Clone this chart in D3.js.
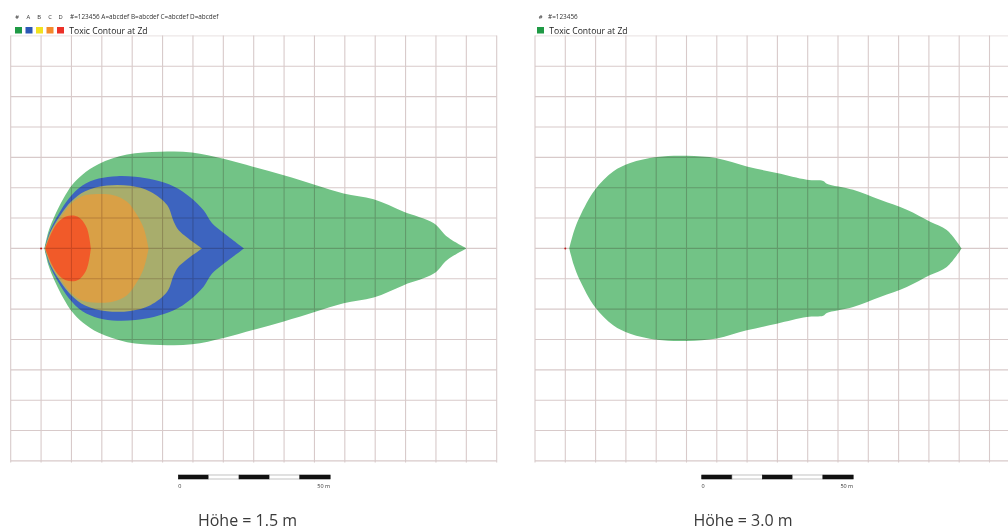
<!DOCTYPE html>
<html>
<head>
<meta charset="utf-8">
<script src="https://cdn.jsdelivr.net/npm/d3@7"></script>
<style>
  body { margin: 0; background: #fff; }
  svg { display: block; }
  text { font-family: "Open Sans", sans-serif; }
</style>
</head>
<body>
<svg id="chart" width="1008" height="529"></svg>
<script>
// Grid lines every 10 m: downwind distance (x) and crosswind offset (y)
const gridX = d3.range(-10, 151, 10);
const gridY = d3.range(-70, 71, 10);

// Contour levels and their legend colours
const levelNames = ["#", "A", "B", "C", "D"];
const levelKeys = "#=123456 A=abcdef B=abcdef C=abcdef D=abcdef";
const levelLegendColors = ["#1f9a45", "#2a57b5", "#f1e21f", "#f48a2b", "#ec3028"];
const levelFillColors = ["#72c386", "#3d64bf", "#a8ad6c", "#d9a046", "#f15a29"];

// Contours at height 1.5 m: [downwind distance m, half-width m]
const contour15Level0 = [[1.1,0],[2.4,5.5],[4.6,11.0],[7.4,16.5],[10.2,20.9],[13.6,24.3],[19.0,27.8],[28.3,30.9],[39.3,31.8],[49.7,31.6],[60.1,29.5],[70.0,26.8],[79.9,24.1],[90.3,20.9],[99.6,18.1],[109.5,16.2],[119.4,12.1],[129.3,8.3],[133.7,3.8],[140.0,0]];
const contour15LevelA = [[1.2,0],[2.8,5.5],[5.6,11.0],[9.2,16.5],[13.6,20.7],[19.0,23.0],[25.0,23.8],[31.0,23.6],[37.1,22.6],[43.7,20.4],[49.2,16.8],[53.5,12.6],[56.3,8.3],[59.6,5.5],[66.8,0]];
const contour15LevelB = [[1.2,0],[3.1,5.5],[6.4,11.0],[10.0,15.5],[14.5,18.8],[21.7,20.7],[29.4,20.6],[36.0,18.7],[41.5,14.3],[43.7,8.8],[45.3,6.0],[53.0,0]];
const contour15LevelC = [[1.3,0],[3.4,5.5],[7.0,11.0],[10.0,14.8],[13.5,17.2],[18.5,17.9],[23.5,17.6],[28.3,15.4],[31.6,11.0],[33.8,6.6],[35.4,0]];
const contour15LevelD = [[1.4,0],[3.6,5.5],[5.6,8.6],[8.2,10.5],[10.8,10.8],[13.0,9.8],[15.1,6.6],[16.4,0]];

// Contour at height 3.0 m
const contour30Level0 = [[1.3,0],[2.8,5.5],[4.8,10.5],[9.8,19.3],[15.8,25.3],[21.4,28.1],[30.2,30.1],[40.1,30.5],[50.0,29.7],[59.9,27.0],[69.8,24.8],[79.7,22.6],[85.1,22.2],[86.3,21.3],[95.0,19.3],[103.9,16.0],[112.7,12.7],[120.4,8.8],[125.9,6.1],[130.8,0]];

const scaleBarSegments = d3.range(0, 50, 10);
const captions = ["Höhe = 1.5 m", "Höhe = 3.0 m"];

const panels = [
  {
    xRange: [10.7, 496.7], yRange: [35.9, 460.9],
    contours: [contour15Level0, contour15LevelA, contour15LevelB, contour15LevelC, contour15LevelD],
    legend: { x: 15, names: levelNames, keys: levelKeys, nameX: [17, 28.3, 39.2, 50, 60.7], keyX: 70 },
    scaleBarX: 178.3, captionX: 247.5, caption: captions[0]
  },
  {
    xRange: [535, 1019.8], yRange: [35.9, 460.9],
    contours: [contour30Level0],
    legend: { x: 537, names: ["#"], keys: "#=123456", nameX: [540.7], keyX: 548 },
    scaleBarX: 701.7, captionX: 743, caption: captions[1]
  }
];

const svg = d3.select("#chart");

panels.forEach(p => {
  const x = d3.scaleLinear().domain([-10, 150]).range(p.xRange);
  const y = d3.scaleLinear().domain([70, -70]).range(p.yRange);
  const g = svg.append("g");

  // Filled toxic contours, symmetric about the plume axis
  const area = d3.area()
    .x(d => x(d[0]))
    .y0(d => y(-d[1]))
    .y1(d => y(d[1]))
    .curve(d3.curveCatmullRom.alpha(0.5));
  g.selectAll("path.contour")
    .data(p.contours)
    .join("path")
    .attr("class", "contour")
    .attr("d", area)
    .attr("fill", (d, i) => levelFillColors[i]);

  // Release point
  g.append("circle")
    .attr("cx", x(0)).attr("cy", y(0)).attr("r", 1)
    .attr("fill", "#d22");

  // Grid, multiplied over the fills
  const grid = g.append("g").style("mix-blend-mode", "multiply")
    .attr("stroke", "#d8caca").attr("stroke-width", 1.1);
  grid.selectAll("line.v").data(gridX).join("line")
    .attr("class", "v")
    .attr("x1", d => x(d)).attr("x2", d => x(d))
    .attr("y1", y(70) - 0.5).attr("y2", y(-70) + 1.5);
  grid.selectAll("line.h").data(gridY).join("line")
    .attr("class", "h")
    .attr("x1", x(-10)).attr("x2", x(150))
    .attr("y1", d => y(d)).attr("y2", d => y(d))
    .attr("stroke-opacity", d => d === 70 ? 0.45 : 1);

  // Legend
  const lg = p.legend;
  g.selectAll("text.lname").data(lg.names).join("text")
    .attr("class", "lname")
    .attr("x", (d, i) => lg.nameX[i]).attr("y", 18.6)
    .attr("text-anchor", "middle")
    .attr("font-size", 5.8).attr("fill", "#333")
    .text(d => d);
  g.append("text")
    .attr("x", lg.keyX).attr("y", 18.6)
    .attr("font-size", 6.4).attr("fill", "#333")
    .text(lg.keys);
  g.selectAll("rect.lsq").data(lg.names).join("rect")
    .attr("class", "lsq")
    .attr("x", (d, i) => lg.x + i * 10.5).attr("y", 27)
    .attr("width", 7).attr("height", 6.5)
    .attr("fill", (d, i) => levelLegendColors[i]);
  g.append("text")
    .attr("x", lg.x + lg.names.length * 10.5 + 1.8).attr("y", 33.6)
    .attr("font-size", 8.6).attr("fill", "#222")
    .text("Toxic Contour at Zd");

  // Scale bar, 0 - 50 m in 10 m blocks
  const seg = x(10) - x(0);
  const sb = g.append("g").attr("transform", `translate(${p.scaleBarX},475)`);
  sb.selectAll("rect").data(scaleBarSegments).join("rect")
    .attr("x", d => d / 10 * seg).attr("y", 0)
    .attr("width", seg).attr("height", 4)
    .attr("fill", (d, i) => i % 2 ? "#fff" : "#111")
    .attr("stroke", (d, i) => i % 2 ? "#9a9a9a" : "#111")
    .attr("stroke-width", 0.6);
  sb.append("text").attr("x", 1.5).attr("y", 13)
    .attr("text-anchor", "middle").attr("font-size", 5.5).attr("fill", "#333")
    .text("0");
  sb.append("text").attr("x", 5 * seg).attr("y", 13)
    .attr("text-anchor", "end").attr("font-size", 5.5).attr("fill", "#333")
    .text("50 m");

  // Height caption
  g.append("text")
    .attr("x", p.captionX).attr("y", 525.5)
    .attr("text-anchor", "middle")
    .attr("font-size", 16).attr("fill", "#3a3a3a")
    .text(p.caption);
});
</script>
</body>
</html>
